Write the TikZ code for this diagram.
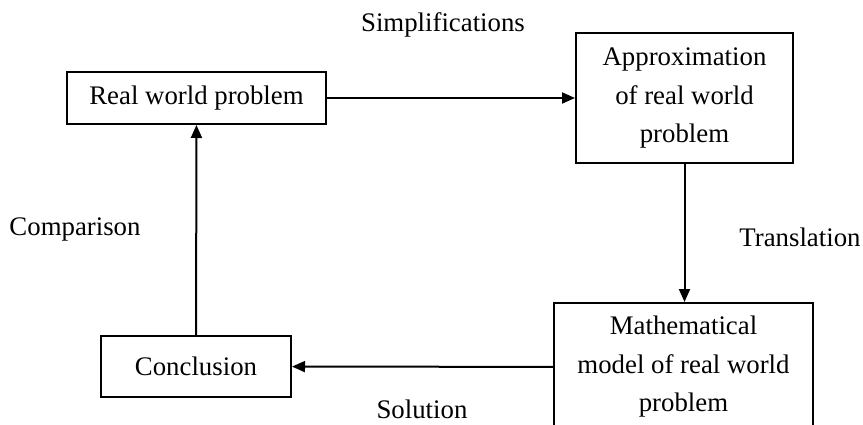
\documentclass[tikz,border=0pt]{standalone}
\usepackage{fontspec}
\setmainfont{Liberation Serif}
\usetikzlibrary{arrows.meta}
\tikzstyle{stepbox}=[draw=black,line width=2pt,fill=white,
                     align=center,inner sep=0pt,
                     font=\fontsize{26.8}{38.5}\selectfont]
\tikzstyle{steplabel}=[inner sep=0pt,font=\fontsize{26.8}{38.5}\selectfont]
\tikzstyle{flow}=[line width=2pt,-{Triangle[length=13pt,width=11pt]}]

\begin{document}
\begin{tikzpicture}[x=1pt,y=-1pt]
    \useasboundingbox (0,0) rectangle (863,425);
    \clip (0,0) rectangle (863,425);
    \node (real)   at (196.5, 98) [stepbox,minimum width=259pt,minimum height=52pt]{Real world problem};
    \node (approx) at (684.5, 98) [stepbox,minimum width=217pt,minimum height=130pt]{Approximation\\of real world\\problem};
    \node (model)  at (683.5,367) [stepbox,minimum width=259pt,minimum height=128pt]{Mathematical\\model of real world\\problem};
    \node (concl)  at (196,366.5) [stepbox,minimum width=190pt,minimum height=61pt]{Conclusion};
    \draw[flow] (real) -- (approx);
    \draw[flow] (approx.south) -- (approx.south |- model.north);
    \draw[flow] (model) -- (concl);
    \draw[flow] (concl) -- (real);
    \node (simp)  at (443, 25)  [steplabel]{Simplifications};
    \node (trans) at (800,237)  [steplabel]{Translation};
    \node (sol)   at (422,409)  [steplabel]{Solution};
    \node (comp)  at (75,229)   [steplabel]{Comparison};
  \end{tikzpicture}
\end{document}
